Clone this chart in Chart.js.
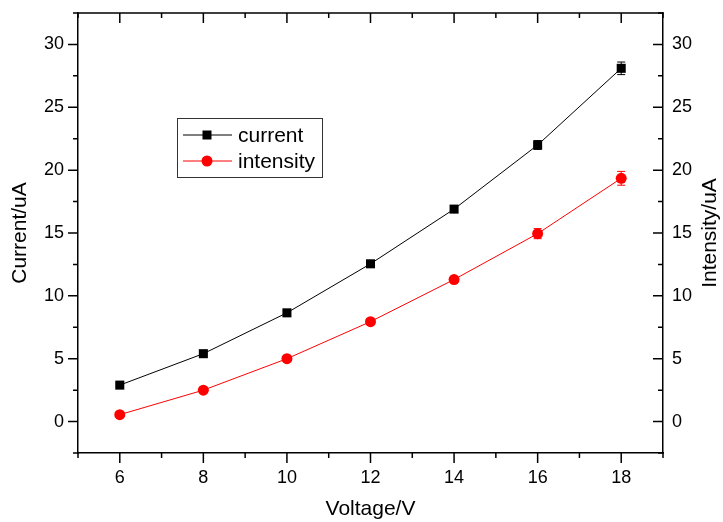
<!DOCTYPE html>
<html lang="en">
<head>
  <meta charset="UTF-8">
  <title>Current and intensity vs voltage</title>
  <script src="https://cdn.jsdelivr.net/npm/chart.js"></script>
  <style>
    html, body { margin: 0; padding: 0; background: #fff; }
    #wrap { width: 723px; height: 522px; }
  </style>
</head>
<body>
  <div id="wrap"><canvas id="ivChart"></canvas></div>
  <script>
    // measured values
    const voltage = [6, 8, 10, 12, 14, 16, 18];
    const current = [2.9, 5.4, 8.65, 12.55, 16.9, 22.0, 28.1];
    const currentErr = [0.1, 0.1, 0.15, 0.2, 0.25, 0.35, 0.5];
    const intensity = [0.55, 2.5, 5.0, 7.95, 11.3, 14.95, 19.35];
    const intensityErr = [0.1, 0.1, 0.15, 0.2, 0.25, 0.4, 0.55];

    const FONT = 'Arial, "Liberation Sans", sans-serif';

    function pts(ys) {
      return voltage.map((v, i) => ({ x: v, y: ys[i] }));
    }

    // error bars, frame ticks, right title and legend box
    const framePlugin = {
      id: 'frame',
      afterDatasetsDraw(chart) {
        const ctx = chart.ctx;
        const errs = [currentErr, intensityErr];
        chart.data.datasets.forEach((ds, di) => {
          const ys = chart.scales[ds.yAxisID];
          const xs = chart.scales.x;
          ctx.save();
          ctx.strokeStyle = ds.borderColor;
          ctx.lineWidth = 1;
          ds.data.forEach((p, i) => {
            const px = xs.getPixelForValue(p.x);
            const top = ys.getPixelForValue(p.y + errs[di][i]);
            const bot = ys.getPixelForValue(p.y - errs[di][i]);
            ctx.beginPath();
            ctx.moveTo(px, top); ctx.lineTo(px, bot);
            ctx.moveTo(px - 4, top); ctx.lineTo(px + 4, top);
            ctx.moveTo(px - 4, bot); ctx.lineTo(px + 4, bot);
            ctx.stroke();
          });
          ctx.restore();
        });
      },
      afterDraw(chart) {
        const ctx = chart.ctx;
        const a = chart.chartArea;
        const xs = chart.scales.x, ys = chart.scales.y, ys2 = chart.scales.y2;

        // top edge of the frame
        ctx.save();
        ctx.fillStyle = '#000000';
        ctx.fillRect(a.left - 0.75, a.top - 0.75, a.right - a.left + 1.5, 1.5);
        ctx.restore();

        ctx.save();
        ctx.strokeStyle = '#000000';
        ctx.lineWidth = 1.5;
        ctx.beginPath();
        xs.ticks.forEach(t => {
          const px = xs.getPixelForValue(t.value);
          const len = t.value % 2 === 0 ? 10 : 5;
          ctx.moveTo(px, a.bottom); ctx.lineTo(px, a.bottom + len);
          ctx.moveTo(px, a.top); ctx.lineTo(px, a.top + len);
        });
        ys.ticks.forEach(t => {
          const py = ys.getPixelForValue(t.value);
          const len = t.value % 5 === 0 ? 10 : 5;
          ctx.moveTo(a.left, py); ctx.lineTo(a.left - len, py);
        });
        ys2.ticks.forEach(t => {
          const py = ys2.getPixelForValue(t.value);
          const len = t.value % 5 === 0 ? 10 : 5;
          ctx.moveTo(a.right, py); ctx.lineTo(a.right - len, py);
        });
        ctx.stroke();
        ctx.restore();

        // right axis title, reading bottom to top
        ctx.save();
        ctx.fillStyle = '#000';
        ctx.font = '21px ' + FONT;
        ctx.textAlign = 'center';
        ctx.textBaseline = 'middle';
        ctx.translate(710, (a.top + a.bottom) / 2);
        ctx.rotate(-Math.PI / 2);
        ctx.fillText('Intensity/uA', 0, 0);
        ctx.restore();

        // legend
        ctx.save();
        const bx = 177, by = 118, bw = 145, bh = 59;
        ctx.strokeStyle = '#333';
        ctx.lineWidth = 1;
        ctx.strokeRect(bx + 0.5, by + 0.5, bw, bh);
        ctx.font = '21px ' + FONT;
        ctx.textAlign = 'left';
        ctx.textBaseline = 'middle';
        chart.data.datasets.forEach((ds, i) => {
          const cy = by + 17 + i * 26;
          ctx.strokeStyle = ds.borderColor;
          ctx.lineWidth = 1;
          ctx.beginPath();
          ctx.moveTo(bx + 6, cy); ctx.lineTo(bx + 55, cy);
          ctx.stroke();
          ctx.fillStyle = ds.backgroundColor;
          if (ds.pointStyle === 'rect') {
            ctx.fillRect(bx + 30 - 4.5, cy - 4.5, 9, 9);
          } else {
            ctx.beginPath();
            ctx.arc(bx + 30, cy, 5.5, 0, Math.PI * 2);
            ctx.fill();
          }
          ctx.fillStyle = '#000';
          ctx.fillText(ds.label, bx + 61, cy + 1);
        });
        ctx.restore();
      }
    };

    const tickFont = { family: FONT, size: 18 };

    // no extra room for the outer tick labels
    function noPad(s) {
      s.paddingTop = 0; s.paddingBottom = 0;
      s.paddingLeft = 0; s.paddingRight = 0;
    }

    new Chart(document.getElementById('ivChart'), {
      type: 'line',
      data: {
        datasets: [
          {
            label: 'current',
            data: pts(current),
            yAxisID: 'y',
            borderColor: '#000000',
            backgroundColor: '#000000',
            borderWidth: 1,
            pointStyle: 'rect',
            pointRadius: 6.4,
            pointBorderWidth: 0,
            tension: 0
          },
          {
            label: 'intensity',
            data: pts(intensity),
            yAxisID: 'y2',
            borderColor: '#ff0000',
            backgroundColor: '#ff0000',
            borderWidth: 1,
            pointStyle: 'circle',
            pointRadius: 5.5,
            pointBorderWidth: 0,
            tension: 0
          }
        ]
      },
      options: {
        responsive: true,
        maintainAspectRatio: false,
        animation: false,
        layout: { padding: { top: 13, left: 0, right: 0, bottom: 0 } },
        plugins: {
          legend: { display: false },
          tooltip: { enabled: false }
        },
        scales: {
          x: {
            type: 'linear',
            min: 5,
            max: 19,
            afterFit: s => { s.height = 69; noPad(s); },
            ticks: {
              stepSize: 1,
              autoSkip: false,
              maxRotation: 0,
              color: '#000',
              font: tickFont,
              padding: 14,
              callback: v => (v % 2 === 0 ? v : '')
            },
            grid: { drawOnChartArea: false, drawTicks: false },
            border: { display: true, color: '#000', width: 1.5 },
            title: {
              display: true,
              text: 'Voltage/V',
              color: '#000',
              font: { family: FONT, size: 21 },
              padding: { top: 8, bottom: 0 }
            }
          },
          y: {
            type: 'linear',
            position: 'left',
            min: -2.5,
            max: 32.5,
            afterFit: s => { s.width = 78; noPad(s); },
            ticks: {
              stepSize: 2.5,
              autoSkip: false,
              color: '#000',
              font: tickFont,
              padding: 14,
              callback: v => (v % 5 === 0 ? v : '')
            },
            grid: { drawOnChartArea: false, drawTicks: false },
            border: { display: true, color: '#000', width: 1.5 },
            title: {
              display: true,
              text: 'Current/uA',
              color: '#000',
              font: { family: FONT, size: 21 },
              padding: { top: 8, bottom: 0 }
            }
          },
          y2: {
            type: 'linear',
            position: 'right',
            min: -2.5,
            max: 32.5,
            afterFit: s => { s.width = 60; noPad(s); },
            ticks: {
              stepSize: 2.5,
              autoSkip: false,
              color: '#000',
              font: tickFont,
              padding: 9,
              callback: v => (v % 5 === 0 ? v : '')
            },
            grid: { drawOnChartArea: false, drawTicks: false },
            border: { display: true, color: '#000', width: 1.5 }
          }
        }
      },
      plugins: [framePlugin]
    });
  </script>
</body>
</html>
